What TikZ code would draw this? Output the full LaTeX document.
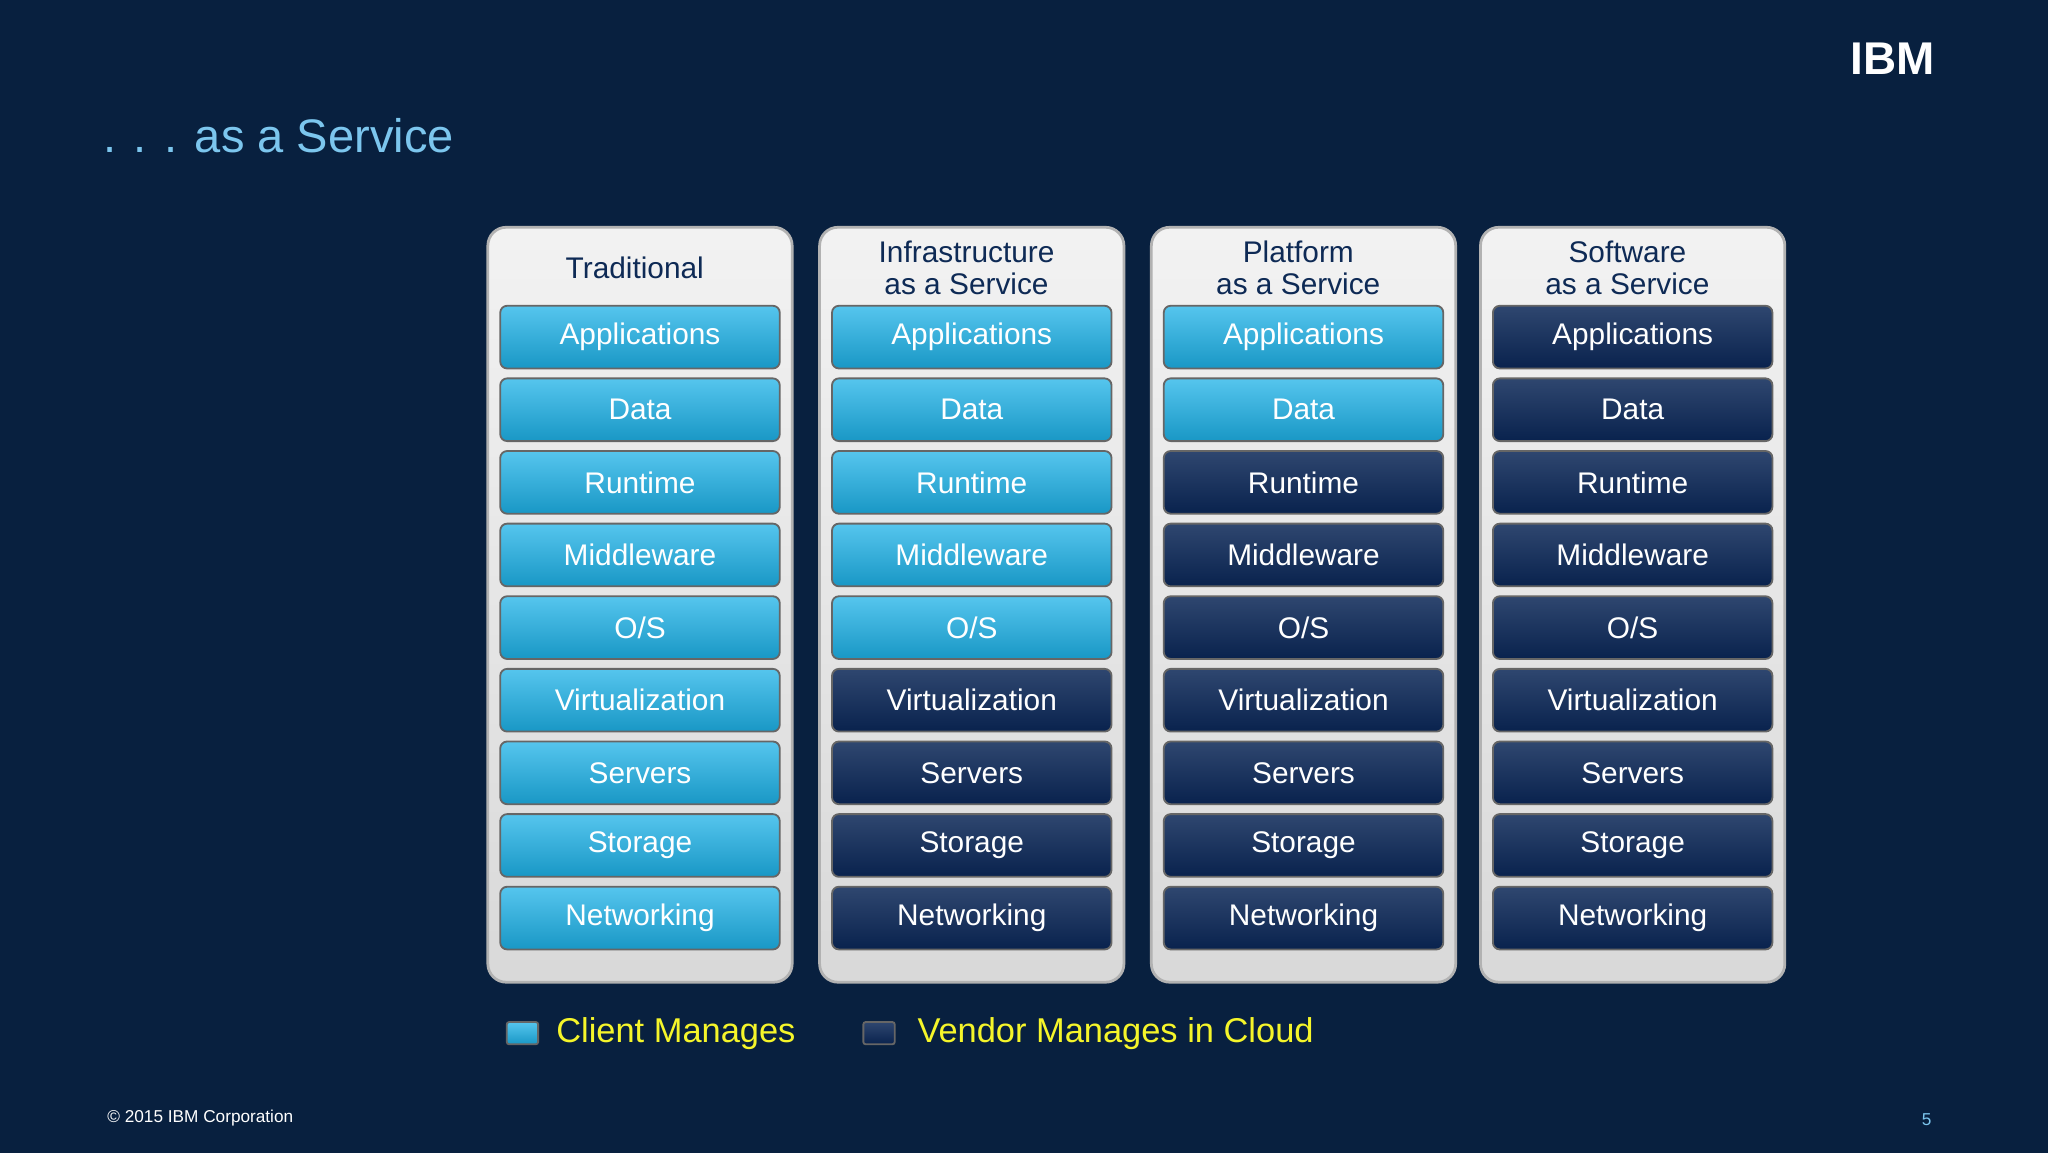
\documentclass[tikz,border=0pt]{standalone}
\usepackage{fontspec}
\setmainfont{Liberation Sans}
\usetikzlibrary{positioning,shadows}
\definecolor{bgnavy}{HTML}{08203F}
\definecolor{clientblue}{HTML}{1DB2E8}
\definecolor{vendornavy}{HTML}{0A2656}
\definecolor{headnavy}{HTML}{0E2A55}
\definecolor{titleblue}{HTML}{7CC6EE}
\definecolor{legendyellow}{HTML}{F5F52A}
\begin{document}
\begin{tikzpicture}[
    x=0.02cm, y=-0.02cm,
    panel/.style={draw=gray!60, line width=1.2pt, rounded corners=8pt,
        top color=gray!10, bottom color=gray!30, minimum width=233*0.02cm,
        minimum height=578*0.02cm},
    cell/.style={rounded corners=3pt, minimum width=214*0.02cm,
        minimum height=48*0.02cm, text=white,
        font=\fontsize{13}{15}\selectfont, draw=black!60, line width=0.8pt},
    client/.style={cell, top color=clientblue!75!white, bottom color=clientblue!85!black},
    vendor/.style={cell, top color=vendornavy!85!white, bottom color=vendornavy!90!black},
    head/.style={text=headnavy, align=center, font=\fontsize{13}{14}\selectfont},
    ]

    %background
    \fill[bgnavy] (0,0) rectangle (1568,883);
    \node[text=titleblue, anchor=west, font=\fontsize{20.5}{24}\selectfont] (title) at (73,104) {. . . as a Service};
    \node[text=white, font=\bfseries\fontsize{20}{22}\selectfont] (logo) at (1449,45) {IBM};

    %columns
    \foreach \name/\cx/\nclient/\label in {
        t/490/9/Traditional,
        i/744/5/{Infrastructure\\as a Service},
        p/998/2/{Platform\\as a Service},
        s/1250/0/{Software\\as a Service}} {
        \node[panel] (\name panel) at (\cx,463) {};
        \node[head] (\name head) at (\cx-4,205) {\label};
        \foreach \row/\txt in {1/Applications,2/Data,3/Runtime,4/Middleware,
            5/{O/S},6/Virtualization,7/Servers,8/Storage,9/Networking} {
            \ifnum\row>\nclient
                \node[vendor] (\name\row) at (\cx,202.5+55.6*\row) {\txt};
            \else
                \node[client] (\name\row) at (\cx,202.5+55.6*\row) {\txt};
            \fi
        }
    }

    %legend
    \node[client, minimum width=24*0.02cm, minimum height=17*0.02cm, rounded corners=1pt] (clientkey) at (400,791) {};
    \node[text=legendyellow, anchor=west, font=\fontsize{15}{17}\selectfont, right=4pt of clientkey] (clienttext) {Client Manages};
    \node[vendor, minimum width=24*0.02cm, minimum height=17*0.02cm, rounded corners=1pt] (vendorkey) at (673,791) {};
    \node[text=legendyellow, anchor=west, font=\fontsize{15}{17}\selectfont, right=6pt of vendorkey] (vendortext) {Vendor Manages in Cloud};

    %footer
    \node[text=white, anchor=west, font=\fontsize{7.5}{9}\selectfont] (copy) at (76,856) {© 2015 IBM Corporation};
    \node[text=titleblue, font=\fontsize{7.5}{9}\selectfont] (page) at (1475,857) {5};
\end{tikzpicture}
\end{document}
